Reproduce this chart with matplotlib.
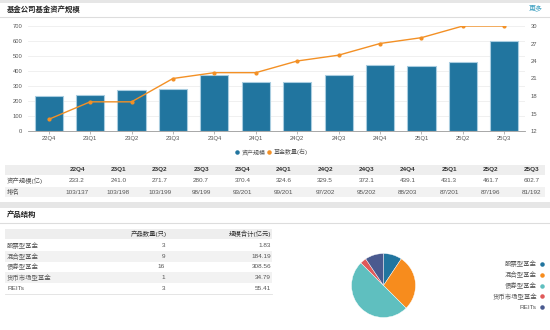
import matplotlib
matplotlib.use('Agg')
import matplotlib.pyplot as plt
from matplotlib.patches import Rectangle

plt.rcParams['font.family'] = ['Liberation Sans', 'Noto Sans CJK SC', 'DejaVu Sans']

quarters = ['22Q4', '23Q1', '23Q2', '23Q3', '23Q4', '24Q1', '24Q2', '24Q3', '24Q4', '25Q1', '25Q2', '25Q3']
assets = [233.2, 241.0, 271.7, 280.7, 370.4, 324.6, 329.5, 372.1, 439.1, 431.3, 461.7, 602.7]
fund_counts = [14, 17, 17, 21, 22, 22, 24, 25, 27, 28, 30, 30]
ranks = ['103/137', '103/198', '103/199', '98/199', '93/201', '99/201', '97/202', '95/202',
         '88/203', '87/201', '87/196', '81/192']

prod_names = ['股票型基金', '混合型基金', '债券型基金', '货币市场型基金', 'REITs']
prod_counts = [3, 9, 16, 1, 3]
prod_scale = [1.83, 184.19, 308.56, 34.79, 55.41]

blue = '#21759f'
orange = '#f39025'
pie_colors = ['#21759f', '#f78c1d', '#5fbfbf', '#e05a5a', '#4a5a8f']
grey_txt = '#555555'
W, H = 550, 330

fig = plt.figure(figsize=(5.5, 3.3), dpi=100)

def box(x0, y0, x1, y1):
    # pixel box -> figure fraction rect
    return [x0 / W, 1 - y1 / H, (x1 - x0) / W, (y1 - y0) / H]

# overlay for page furniture
bg = fig.add_axes([0, 0, 1, 1])
bg.set_xlim(0, W)
bg.set_ylim(H, 0)
bg.axis('off')
bg.add_patch(Rectangle((0, 0), W, 3, color='#e6e6e6', lw=0))
bg.text(7, 10, '基金公司基金资产规模', fontsize=5.3, fontweight='bold', color='#222222', va='center')
bg.text(543, 9, '更多', fontsize=5, color='#3a9fc0', va='center', ha='right')
bg.plot([0, W], [17, 17], color='#dddddd', lw=0.8)

# table 1
bg.add_patch(Rectangle((5, 165), 540, 10, color='#eeeeee', lw=0))
bg.add_patch(Rectangle((5, 187), 540, 10, color='#f2f2f2', lw=0))
col_x = [77 + 41.36 * i for i in range(len(quarters))]
bg.text(7, 181, '资产规模(亿)', fontsize=4.6, color=grey_txt, va='center')
bg.text(7, 192, '排名', fontsize=4.6, color=grey_txt, va='center')
for i, q in enumerate(quarters):
    bg.text(col_x[i], 170, q, fontsize=4.6, color='#333333', fontweight='bold', ha='center', va='center')
    bg.text(col_x[i], 181, '%.1f' % assets[i], fontsize=4.6, color=grey_txt, ha='center', va='center')
    bg.text(col_x[i], 192, ranks[i], fontsize=4.6, color=grey_txt, ha='center', va='center')

bg.add_patch(Rectangle((0, 202), W, 6, color='#e6e6e6', lw=0))
bg.text(7, 215, '产品结构', fontsize=5.3, fontweight='bold', color='#222222', va='center')
bg.plot([0, W], [223, 223], color='#dddddd', lw=0.8)

# table 2
bg.add_patch(Rectangle((5, 229), 267, 10, color='#eeeeee', lw=0))
bg.text(167, 234, '产品数量(只)', fontsize=4.6, color='#333333', ha='right', va='center')
bg.text(271, 234, '规模合计(亿元)', fontsize=4.6, color='#333333', ha='right', va='center')
for i, name in enumerate(prod_names):
    y = 245.5 + 10.7 * i
    if i % 2 == 1:
        bg.add_patch(Rectangle((5, y - 5.3), 267, 10.7, color='#f2f2f2', lw=0))
    bg.text(7, y, name, fontsize=4.6, color=grey_txt, va='center')
    bg.text(165, y, str(prod_counts[i]), fontsize=4.6, color=grey_txt, ha='right', va='center')
    bg.text(271, y, '%.2f' % prod_scale[i], fontsize=4.6, color=grey_txt, ha='right', va='center')
bg.plot([5, 272], [294, 294], color='#e0e0e0', lw=0.6)

# legend of bar chart
bg.scatter([237], [152], s=5, color=blue)
bg.text(242, 152, '资产规模', fontsize=4.3, color=grey_txt, va='center')
bg.scatter([269], [152], s=5, color=orange)
bg.text(274, 152, '基金数量(右)', fontsize=4.3, color=grey_txt, va='center')

# pie legend
for i, name in enumerate(prod_names):
    y = 264 + 10.8 * i
    bg.text(537, y, name, fontsize=4.6, color=grey_txt, ha='right', va='center')
    bg.scatter([542], [y], s=5, color=pie_colors[i])

# main chart
ax = fig.add_axes(box(28, 26, 525, 131))
x = list(range(len(quarters)))
ax.bar(x, assets, width=0.68, color=blue, edgecolor='#a9cde0', linewidth=0.8, zorder=3)
ax.set_xlim(-0.5, len(quarters) - 0.5)
ax.set_ylim(0, 700)
ax.set_yticks(range(0, 701, 100))
ax.set_xticks(x)
ax.set_xticklabels(quarters)
ax.grid(axis='y', color='#eeeeee', lw=0.6, zorder=0)
for s in ['top', 'right', 'left']:
    ax.spines[s].set_visible(False)
ax.spines['bottom'].set_color('#999999')
ax.spines['bottom'].set_linewidth(0.6)
ax.tick_params(axis='y', length=0, labelsize=4.2, labelcolor=grey_txt, pad=4)
ax.tick_params(axis='x', length=2, width=0.5, color='#999999', labelsize=4.2, labelcolor=grey_txt, pad=1.5)

ax2 = ax.twinx()
ax2.plot(x, fund_counts, color=orange, lw=1, marker='o', markersize=2, zorder=4)
ax2.set_ylim(12, 30)
ax2.set_yticks(range(12, 31, 3))
for s in ['top', 'right', 'left', 'bottom']:
    ax2.spines[s].set_visible(False)
ax2.tick_params(axis='y', length=0, labelsize=4.2, labelcolor=grey_txt, pad=4)

# pie
pax = fig.add_axes(box(343.5, 245.5, 423.5, 325.5))
pax.pie(prod_counts, colors=pie_colors, startangle=90, counterclock=False,
        wedgeprops=dict(edgecolor='white', linewidth=0.3))
pax.set_aspect('equal')

fig.savefig('out.png', dpi=100)
